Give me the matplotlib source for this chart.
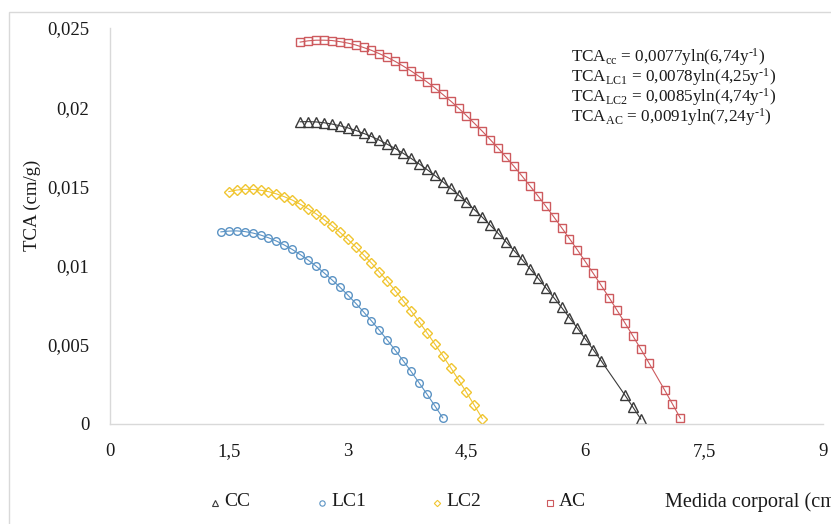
import matplotlib
matplotlib.use("Agg")
import matplotlib.pyplot as plt
from matplotlib.lines import Line2D
from matplotlib.patches import Rectangle

plt.rcParams['font.family'] = ['Liberation Serif', 'DejaVu Serif']
plt.rcParams['mathtext.fontset'] = 'custom'
plt.rcParams['mathtext.rm'] = 'Liberation Serif'
plt.rcParams['mathtext.it'] = 'Liberation Serif:italic'

# Datos (medida corporal en cm, TCA en cm/g)
x_cc = [2.4, 2.5, 2.6, 2.7, 2.8, 2.9, 3.0, 3.1, 3.2, 3.3, 3.4, 3.5, 3.6, 3.7, 3.8,
        3.9, 4.0, 4.1, 4.2, 4.3, 4.4, 4.5, 4.6, 4.7, 4.8, 4.9, 5.0, 5.1, 5.2, 5.3,
        5.4, 5.5, 5.6, 5.7, 5.8, 5.9, 6.0, 6.1, 6.2, 6.5, 6.6, 6.7]
y_cc = [0.01908, 0.01909, 0.01907, 0.01902, 0.01894, 0.01883, 0.01870, 0.01854,
        0.01835, 0.01815, 0.01792, 0.01766, 0.01739, 0.01709, 0.01677, 0.01643,
        0.01607, 0.01569, 0.01530, 0.01488, 0.01445, 0.01400, 0.01353, 0.01305,
        0.01255, 0.01203, 0.01150, 0.01095, 0.01039, 0.00981, 0.00922, 0.00861,
        0.00799, 0.00736, 0.00671, 0.00605, 0.00537, 0.00469, 0.00399, 0.00182,
        0.00107, 0.00031]

x_lc1 = [1.4, 1.5, 1.6, 1.7, 1.8, 1.9, 2.0, 2.1, 2.2, 2.3, 2.4, 2.5, 2.6, 2.7, 2.8,
         2.9, 3.0, 3.1, 3.2, 3.3, 3.4, 3.5, 3.6, 3.7, 3.8, 3.9, 4.0, 4.1, 4.2]
y_lc1 = [0.01213, 0.01218, 0.01219, 0.01215, 0.01206, 0.01193, 0.01176, 0.01155,
         0.01130, 0.01102, 0.01070, 0.01035, 0.00997, 0.00955, 0.00911, 0.00865,
         0.00815, 0.00763, 0.00708, 0.00651, 0.00592, 0.00530, 0.00466, 0.00400,
         0.00332, 0.00261, 0.00189, 0.00115, 0.00039]

x_lc2 = [1.5, 1.6, 1.7, 1.8, 1.9, 2.0, 2.1, 2.2, 2.3, 2.4, 2.5, 2.6, 2.7, 2.8, 2.9,
         3.0, 3.1, 3.2, 3.3, 3.4, 3.5, 3.6, 3.7, 3.8, 3.9, 4.0, 4.1, 4.2, 4.3, 4.4,
         4.5, 4.6, 4.7]
y_lc2 = [0.01467, 0.01477, 0.01482, 0.01481, 0.01476, 0.01467, 0.01453, 0.01435,
         0.01414, 0.01388, 0.01359, 0.01327, 0.01291, 0.01253, 0.01211, 0.01166,
         0.01119, 0.01068, 0.01016, 0.00960, 0.00902, 0.00842, 0.00779, 0.00714,
         0.00646, 0.00577, 0.00505, 0.00432, 0.00356, 0.00278, 0.00199, 0.00117,
         0.00034]

x_ac = [2.4, 2.5, 2.6, 2.7, 2.8, 2.9, 3.0, 3.1, 3.2, 3.3, 3.4, 3.5, 3.6, 3.7, 3.8,
        3.9, 4.0, 4.1, 4.2, 4.3, 4.4, 4.5, 4.6, 4.7, 4.8, 4.9, 5.0, 5.1, 5.2, 5.3,
        5.4, 5.5, 5.6, 5.7, 5.8, 5.9, 6.0, 6.1, 6.2, 6.3, 6.4, 6.5, 6.6, 6.7, 6.8,
        7.0, 7.1, 7.2]
y_ac = [0.02411, 0.02419, 0.02423, 0.02423, 0.02421, 0.02414, 0.02405, 0.02393,
        0.02377, 0.02359, 0.02338, 0.02315, 0.02289, 0.02260, 0.02229, 0.02195,
        0.02160, 0.02122, 0.02081, 0.02039, 0.01994, 0.01947, 0.01898, 0.01848,
        0.01795, 0.01741, 0.01684, 0.01626, 0.01566, 0.01504, 0.01441, 0.01376,
        0.01309, 0.01240, 0.01170, 0.01099, 0.01025, 0.00951, 0.00875, 0.00798,
        0.00718, 0.00638, 0.00556, 0.00473, 0.00388, 0.00215, 0.00126, 0.00036]

x_ticks = [0, 1.5, 3, 4.5, 6, 7.5, 9]
y_ticks = [0, 0.005, 0.01, 0.015, 0.02, 0.025]

ecuaciones = [r'TCA$_{\mathrm{cc}}$ = 0,0077yln(6,74y$^{\text{-1}}$)',
              r'TCA$_{\mathrm{LC1}}$ = 0,0078yln(4,25y$^{\text{-1}}$)',
              r'TCA$_{\mathrm{LC2}}$ = 0,0085yln(4,74y$^{\text{-1}}$)',
              r'TCA$_{\mathrm{AC}}$ = 0,0091yln(7,24y$^{\text{-1}}$)']

W, H = 831, 524
fig = plt.figure(figsize=(W / 100, H / 100), dpi=100)
ax = fig.add_axes([110 / W, 1 - 424 / H, (823 - 110) / W, (424 - 28) / H])

series = [
    (x_cc, y_cc, '^', '#3a3a3a', 7.0, 'CC'),
    (x_lc1, y_lc1, 'o', '#5b93c4', 5.5, 'LC1'),
    (x_lc2, y_lc2, 'D', '#f0c530', 4.6, 'LC2'),
    (x_ac, y_ac, 's', '#cd5a5e', 5.6, 'AC'),
]
# posiciones (px) de la leyenda: marcador y texto
leyenda_x = [215, 322, 437, 550]

for (xs, ys, mk, col, ms, lab), lx in zip(series, leyenda_x):
    ax.plot(xs, ys, color=col, lw=0.8, marker=mk, markersize=ms,
            markerfacecolor='none', markeredgecolor=col, markeredgewidth=1.0)
    fig.add_artist(Line2D([lx / W], [1 - 503 / H], transform=fig.transFigure,
                          linestyle='none', marker=mk, markersize=ms * 0.7,
                          markerfacecolor='none', markeredgecolor=col,
                          markeredgewidth=0.8))
    fig.text((lx + 9) / W, 1 - 502 / H, lab, ha='left', va='center',
             fontsize=14, color='#1a1a1a')

ax.set_xlim(0, 9)
ax.set_ylim(0, 0.025)
ax.set_xticks(x_ticks)
ax.set_xticklabels([f'{v:g}'.replace('.', ',') for v in x_ticks])
ax.set_yticks(y_ticks)
ax.set_yticklabels([f'{v:g}'.replace('.', ',') for v in y_ticks])
ax.tick_params(length=0, labelsize=13.5, colors='#1a1a1a')
ax.tick_params(axis='x', pad=14)
ax.tick_params(axis='y', pad=15)
for s in ['top', 'right']:
    ax.spines[s].set_visible(False)
for s in ['left', 'bottom']:
    ax.spines[s].set_color('#d9d9d9')
    ax.spines[s].set_linewidth(1.0)

fig.text(32 / W, 1 - 205 / H, 'TCA (cm/g)', rotation=90, ha='center', va='center',
         fontsize=13.5, color='#1a1a1a')

fig.text(571 / W, 1 - 46 / H, '\n'.join(ecuaciones), ha='left', va='top',
         fontsize=12.3, color='#1a1a1a', linespacing=0.87)

fig.text(665 / W, 1 - 502 / H, 'Medida corporal (cm)', ha='left', va='center',
         fontsize=14.6, color='#1a1a1a')

fig.patches.append(Rectangle((9 / W, -0.1), 1.2, 1.1 - 12 / H, transform=fig.transFigure,
                             fill=False, edgecolor='#d9d9d9', lw=1.0))

plt.savefig('out.png', dpi=100)
